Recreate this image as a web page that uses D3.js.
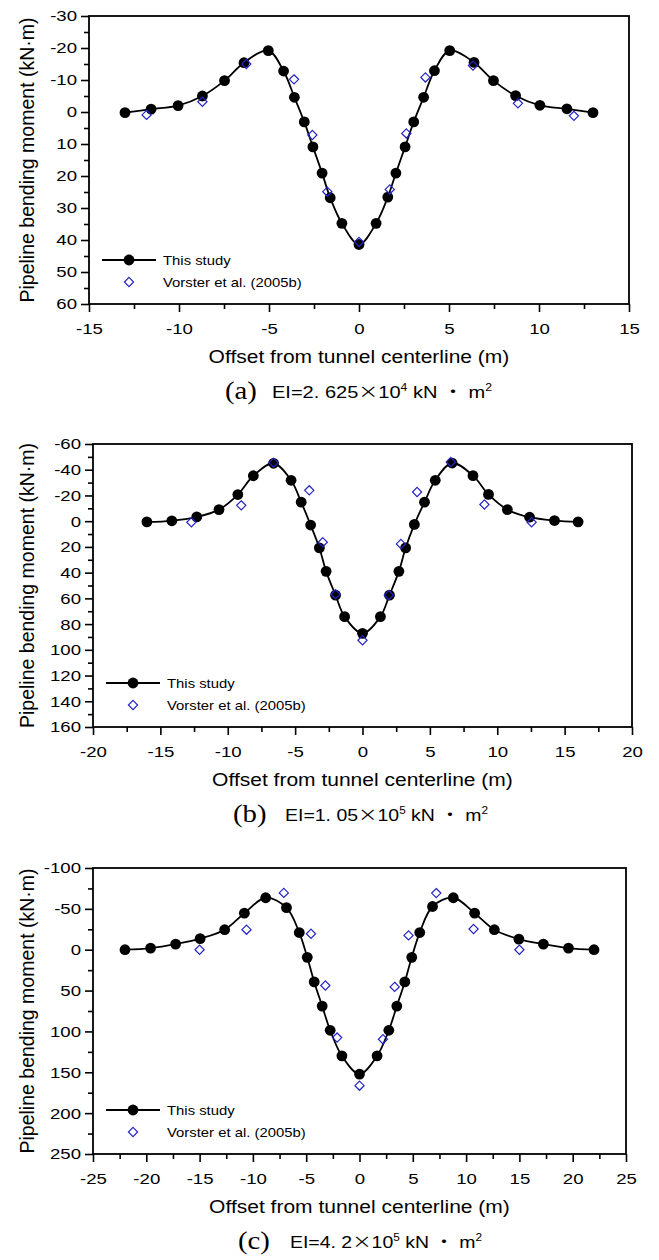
<!DOCTYPE html>
<html>
<head>
<meta charset="utf-8">
<script src="https://cdn.jsdelivr.net/npm/d3@7"></script>
<style>
  body { margin: 0; background: #fff; }
  svg { display: block; }
  text { font-family: "Liberation Sans", Arial, Helvetica, sans-serif; fill: #000; }
</style>
</head>
<body>
<svg id="chart" width="659" height="1260"></svg>
<script>
/////////////////////////////////////////////////////////
//////////////////////// Data ///////////////////////////
/////////////////////////////////////////////////////////

// (a) EI = 2.625e4
const studyXA = [-13, -11.55, -10.05, -8.7, -7.47, -6.39, -5.04, -4.19, -3.59, -3.04, -2.56, -2.05, -1.6, -0.95, 0,
                 0.95, 1.6, 2.05, 2.56, 3.04, 3.59, 4.19, 5.04, 6.39, 7.47, 8.7, 10.05, 11.55, 13];
const studyMA = [0.2, -0.9, -2.0, -5.0, -9.8, -15.4, -19.2, -12.8, -4.6, 3.1, 10.9, 19.1, 26.8, 34.8, 41.4,
                 34.8, 26.6, 19.1, 10.9, 3.1, -4.6, -12.9, -19.2, -15.5, -9.8, -5.1, -2.1, -1.0, 0.2];
const vorsterXA = [-11.8, -8.7, -6.26, -3.61, -2.59, -1.76, 0, 1.71, 2.63, 3.69, 6.33, 8.83, 11.94];
const vorsterMA = [0.9, -3.2, -15.0, -10.2, 7.2, 24.9, 40.6, 24.2, 6.7, -10.8, -14.5, -2.7, 1.2];
const xTicksA = [-15, -10, -5, 0, 5, 10, 15];
const yTicksA = [-30, -20, -10, 0, 10, 20, 30, 40, 50, 60];

// (b) EI = 1.05e5
const studyXB = [-16, -14.15, -12.3, -10.65, -9.25, -8.1, -6.6, -5.3, -4.55, -3.85, -3.2, -2.7, -2.0, -1.33, 0,
                 1.33, 2.0, 2.7, 3.2, 3.85, 4.6, 5.4, 6.65, 8.2, 9.35, 10.75, 12.4, 14.25, 16];
const studyMB = [0.5, -0.3, -3.3, -9.0, -20.7, -35.3, -45.0, -31.8, -14.8, 3.0, 20.8, 39.0, 57.5, 74.2, 87.2,
                 74.2, 57.5, 39.0, 20.8, 2.5, -14.8, -31.8, -45.2, -35.4, -20.8, -9.0, -3.1, -0.5, 0.5];
const vorsterXB = [-12.7, -9.0, -6.6, -3.95, -2.95, -2.0, 0, 1.95, 2.85, 4.05, 6.55, 9.05, 12.55];
const vorsterMB = [0.8, -12.3, -45.5, -24.0, 16.4, 56.8, 92.6, 57.5, 17.7, -22.7, -46.0, -13.0, 0.8];
const xTicksB = [-20, -15, -10, -5, 0, 5, 10, 15, 20];
const yTicksB = [-60, -40, -20, 0, 20, 40, 60, 80, 100, 120, 140, 160];

// (c) EI = 4.2e5
const studyXC = [-22, -19.6, -17.25, -14.95, -12.65, -10.8, -8.8, -6.85, -5.65, -4.9, -4.25, -3.5, -2.75, -1.65, 0,
                 1.65, 2.75, 3.5, 4.25, 4.9, 5.65, 6.85, 8.8, 10.8, 12.65, 14.95, 17.25, 19.6, 22];
const studyMC = [0, -2.0, -6.9, -13.6, -24.5, -44.7, -63.6, -51.5, -21.0, 9.3, 39.4, 69.0, 98.6, 129.9, 152.2,
                 129.9, 98.6, 69.0, 39.4, 9.3, -21.0, -52.9, -63.6, -44.7, -24.5, -13.0, -6.9, -2.0, 0];
const vorsterXC = [-15, -10.6, -7.1, -4.55, -3.2, -2.1, 0, 2.2, 3.3, 4.6, 7.2, 10.7, 15];
const vorsterMC = [0, -24.5, -69.5, -19.5, 43.8, 107.5, 166.4, 109.6, 45.5, -17.5, -69.3, -25.4, 0];
const xTicksC = [-25, -20, -15, -10, -5, 0, 5, 10, 15, 20, 25];
const yTicksC = [-100, -50, 0, 50, 100, 150, 200, 250];

const captionLetters = ["(a)", "(b)", "(c)"];
const captionMantissa = ["EI=2. 625", "EI=1. 05", "EI=4. 2"];
const captionExponent = ["4", "5", "5"];
const legendLabels = ["This study", "Vorster et al. (2005b)"];

/////////////////////////////////////////////////////////
/////////////////////// Layout //////////////////////////
/////////////////////////////////////////////////////////

const panels = [
	{left: 89, right: 629, top: 16,  bottom: 304,  sx: studyXA, sm: studyMA, vx: vorsterXA, vm: vorsterMA,
	 xTicks: xTicksA, yTicks: yTicksA, capX: 225, eiX: 272, eiW: 220},
	{left: 93, right: 632, top: 444, bottom: 727,  sx: studyXB, sm: studyMB, vx: vorsterXB, vm: vorsterMB,
	 xTicks: xTicksB, yTicks: yTicksB, capX: 233, eiX: 285, eiW: 203},
	{left: 93, right: 626, top: 868, bottom: 1154, sx: studyXC, sm: studyMC, vx: vorsterXC, vm: vorsterMC,
	 xTicks: xTicksC, yTicks: yTicksC, capX: 238, eiX: 290, eiW: 192}
];

const svg = d3.select("#chart");
const blue = "#2424c8";
const cjk = "'Noto Sans CJK SC', sans-serif";
const diamond = d3.symbol().type(d3.symbolDiamond2).size(Math.pow(4.6 / 0.62625, 2));

//Midpoints between major ticks
function minors(ticks) {
	return ticks.slice(1).map((t, i) => (t + ticks[i]) / 2);
}

function drawPanel(p, idx) {
	const x = d3.scaleLinear().domain(d3.extent(p.xTicks)).range([p.left, p.right]);
	const y = d3.scaleLinear().domain(d3.extent(p.yTicks)).range([p.top, p.bottom]);
	const g = svg.append("g");

	//Minor ticks
	g.append("g").attr("transform", `translate(0,${p.bottom})`)
		.call(d3.axisBottom(x).tickValues(minors(p.xTicks)).tickSize(5).tickFormat(""));
	g.append("g").attr("transform", `translate(${p.left},0)`)
		.call(d3.axisLeft(y).tickValues(minors(p.yTicks)).tickSize(5).tickFormat(""));

	//Major ticks + labels
	g.append("g").attr("transform", `translate(0,${p.bottom})`)
		.call(d3.axisBottom(x).tickValues(p.xTicks).tickSize(8).tickPadding(11).tickFormat(d => String(d)))
		.selectAll("text").attr("data-k", 1.2);
	g.append("g").attr("transform", `translate(${p.left},0)`)
		.call(d3.axisLeft(y).tickValues(p.yTicks).tickSize(8).tickPadding(4).tickFormat(d => String(d)))
		.selectAll("text").attr("data-k", 1.2);

	g.selectAll(".domain").remove();
	g.selectAll(".tick line").attr("stroke", "#000").attr("stroke-width", 1.6);
	g.selectAll(".tick text").attr("font-size", 15.5).attr("font-family", null).attr("fill", "#000");

	//Frame
	g.append("rect")
		.attr("x", p.left).attr("y", p.top)
		.attr("width", p.right - p.left).attr("height", p.bottom - p.top)
		.attr("fill", "none").attr("stroke", "#000").attr("stroke-width", 1.8);

	//Axis titles
	g.append("text")
		.attr("x", (p.left + p.right) / 2).attr("y", p.bottom + 59)
		.attr("text-anchor", "middle").attr("font-size", 17.5).attr("data-k", 1.2)
		.text("Offset from tunnel centerline (m)");
	g.append("text")
		.attr("transform", `translate(34,${(p.top + p.bottom) / 2}) rotate(-90)`)
		.attr("text-anchor", "middle").attr("font-size", 19.5)
		.text("Pipeline bending moment (kN·m)");

	//This study: spline + dots
	const pts = p.sx.map((v, i) => [v, p.sm[i]]);
	const line = d3.line().x(d => x(d[0])).y(d => y(d[1])).curve(d3.curveCatmullRom.alpha(0.5));
	g.append("path").attr("d", line(pts))
		.attr("fill", "none").attr("stroke", "#000").attr("stroke-width", 1.8);
	g.selectAll(".dot").data(pts).enter().append("circle")
		.attr("cx", d => x(d[0])).attr("cy", d => y(d[1])).attr("r", 5.4).attr("fill", "#000");

	//Vorster et al.: open diamonds
	g.selectAll(".vor").data(p.vx.map((v, i) => [v, p.vm[i]])).enter().append("path")
		.attr("d", diamond)
		.attr("transform", d => `translate(${x(d[0])},${y(d[1])})`)
		.attr("fill", "none").attr("stroke", blue).attr("stroke-width", 1.2);

	//Legend
	const ly1 = p.bottom - 44, ly2 = p.bottom - 22, lx = p.left + 40;
	g.append("line").attr("x1", lx - 27).attr("x2", lx + 27).attr("y1", ly1).attr("y2", ly1)
		.attr("stroke", "#000").attr("stroke-width", 1.8);
	g.append("circle").attr("cx", lx).attr("cy", ly1).attr("r", 5.4).attr("fill", "#000");
	g.append("path").attr("d", diamond).attr("transform", `translate(${lx},${ly2})`)
		.attr("fill", "none").attr("stroke", blue).attr("stroke-width", 1.2);
	[ly1, ly2].forEach((ly, i) => {
		g.append("text").attr("x", lx + 34).attr("y", ly + 5)
			.attr("font-size", 13.5).attr("data-k", 1.1).text(legendLabels[i]);
	});

	//Caption
	g.append("text").attr("x", p.capX).attr("y", p.bottom + 95)
		.style("font-family", "'Liberation Serif', 'Times New Roman', serif")
		.attr("font-size", 25).attr("data-k", 1.15).text(captionLetters[idx]);
	const ei = g.append("text").attr("x", p.eiX).attr("y", p.bottom + 94)
		.attr("font-size", 16.5).attr("data-w", p.eiW);
	ei.append("tspan").text(captionMantissa[idx]);
	ei.append("tspan").style("font-family", cjk).text("×");
	ei.append("tspan").text("10");
	ei.append("tspan").attr("font-size", 10).attr("dy", -7).text(captionExponent[idx]);
	ei.append("tspan").attr("dy", 7).text(" kN ");
	ei.append("tspan").style("font-family", cjk).text("·");
	ei.append("tspan").text(" m");
	ei.append("tspan").attr("font-size", 10).attr("dy", -7).text("2");
}

panels.forEach(drawPanel);

//Widen the horizontal text a little, the source figure is stretched sideways
svg.selectAll("text[data-k]").each(function() {
	const k = +this.getAttribute("data-k");
	const w = this.getComputedTextLength();
	d3.select(this).attr("textLength", w * k).attr("lengthAdjust", "spacingAndGlyphs");
});
svg.selectAll("text[data-w]").each(function() {
	d3.select(this).attr("textLength", +this.getAttribute("data-w")).attr("lengthAdjust", "spacingAndGlyphs");
});
</script>
</body>
</html>
